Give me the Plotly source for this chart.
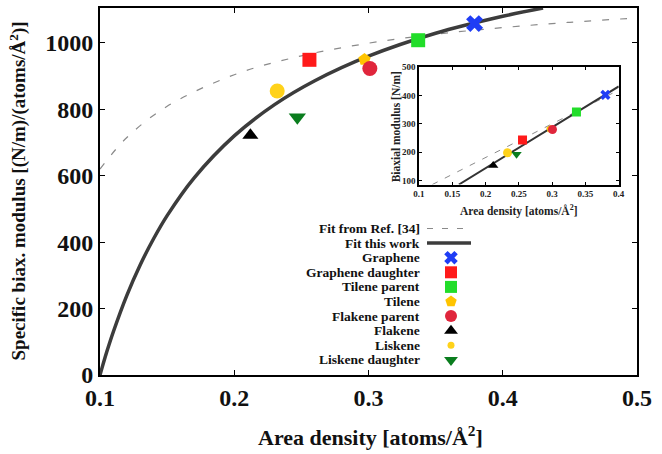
import plotly.graph_objects as go

# ---------------- data ----------------
names = ["Graphene", "Graphene daughter", "Tilene parent", "Tilene",
         "Flakene parent", "Flakene", "Liskene", "Liskene daughter"]
area = [0.379, 0.256, 0.337, 0.297, 0.301, 0.212, 0.232, 0.247]
spec_mod = [1058, 949, 1008, 950, 923, 722, 855, 776]

inset_area = [0.380, 0.2555, 0.3365, 0.297, 0.3005, 0.2115, 0.233, 0.2465]
biax_mod = [402, 243, 342, 282, 280, 153, 198, 193]

fit_this_x = [0.100, 0.105, 0.110, 0.120, 0.130, 0.140, 0.150, 0.170, 0.200,
              0.230, 0.260, 0.300, 0.350, 0.400, 0.430]
fit_this_y = [0, 69, 131, 240, 332, 411, 480, 593, 720, 814, 886, 960, 1029, 1080, 1105]
fit_ref_x = [0.10, 0.12, 0.15, 0.20, 0.25, 0.30, 0.35, 0.40, 0.45, 0.50]
fit_ref_y = [620, 715, 809, 904, 961, 999, 1026, 1046, 1062, 1075]

inset_this_x = [0.16, 0.40]
inset_this_y = [86, 432]
inset_ref_x = [0.12, 0.40]
inset_ref_y = [86, 419]

x_ticks = [0.1, 0.2, 0.3, 0.4, 0.5]
y_ticks = [0, 200, 400, 600, 800, 1000]
ix_ticks = [0.1, 0.15, 0.2, 0.25, 0.3, 0.35, 0.4]
ix_labels = ["0.1", "0.15", "0.2", "0.25", "0.3", "0.35", "0.4"]
iy_ticks = [100, 200, 300, 400, 500]

# ---------------- styles ----------------
symbols = ["x", "square", "square", "pentagon", "circle", "triangle-up", "circle", "triangle-down"]
colors = ["#1f3df5", "#ff1a1a", "#22dd2a", "#ffc400", "#e0263c", "#000000", "#ffd21a", "#0a7d1e"]
main_sizes = [15, 14, 14, 13, 15, 14, 15, 15]
inset_sizes = [9, 9, 9, 8, 9, 9, 9, 9]
leg_sizes = [12, 12, 12, 12, 12, 12, 7, 12]

FONT = "Liberation Serif"

fig = go.Figure()

# main fits
fig.add_trace(go.Scatter(x=fit_ref_x, y=fit_ref_y, mode="lines", line_shape="spline",
                         line=dict(color="#8a8a8a", width=1.2, dash="7px,11px"),
                         showlegend=False, hoverinfo="skip"))
fig.add_trace(go.Scatter(x=fit_this_x, y=fit_this_y, mode="lines", line_shape="spline",
                         line=dict(color="#3c3c3c", width=3.5),
                         showlegend=False, hoverinfo="skip"))
# main points
for i, n in enumerate(names):
    fig.add_trace(go.Scatter(x=[area[i]], y=[spec_mod[i]], mode="markers", name=n,
                             marker=dict(symbol=symbols[i], color=colors[i], size=main_sizes[i],
                                         line=dict(width=0)),
                             showlegend=False))

# inset fits
fig.add_trace(go.Scatter(x=inset_ref_x, y=inset_ref_y, xaxis="x2", yaxis="y2", mode="lines",
                         line=dict(color="#8a8a8a", width=1, dash="6px,8px"),
                         showlegend=False, hoverinfo="skip"))
fig.add_trace(go.Scatter(x=inset_this_x, y=inset_this_y, xaxis="x2", yaxis="y2", mode="lines",
                         line=dict(color="#333333", width=2),
                         showlegend=False, hoverinfo="skip"))
for i, n in enumerate(names):
    fig.add_trace(go.Scatter(x=[inset_area[i]], y=[biax_mod[i]], xaxis="x2", yaxis="y2",
                             mode="markers", name=n,
                             marker=dict(symbol=symbols[i], color=colors[i], size=inset_sizes[i],
                                         line=dict(width=0)),
                             showlegend=False))

# ---------------- manual legend (text left, sample right) ----------------
legend_labels = ["Fit from Ref. [34]", "Fit this work"] + names
row0_px, step_px = 226.5, 14.8
plot_top_px, plot_bot_px, plot_left_px, plot_w_px = 3.0, 375.0, 100.0, 537.0
plot_h_px = plot_bot_px - plot_top_px


def py(ypx):
    return (plot_bot_px - ypx) / plot_h_px


def px(xpx):
    return (xpx - plot_left_px) / plot_w_px


annotations = []
shapes = []
for k, lab in enumerate(legend_labels):
    yy = py(row0_px + step_px * k)
    annotations.append(dict(x=px(421), y=yy, xref="paper", yref="paper", text="<b>%s</b>" % lab,
                            showarrow=False, xanchor="right", yanchor="middle", borderpad=0,
                            font=dict(family=FONT, size=13.5, color="#111")))
shapes.append(dict(type="line", xref="paper", yref="paper", x0=px(427), x1=px(471),
                   y0=py(row0_px), y1=py(row0_px), line=dict(color="#8a8a8a", width=1.2, dash="6px,9px")))
shapes.append(dict(type="line", xref="paper", yref="paper", x0=px(427), x1=px(471),
                   y0=py(row0_px + step_px), y1=py(row0_px + step_px), line=dict(color="#3c3c3c", width=3.5)))
for i, n in enumerate(names):
    yy = py(row0_px + step_px * (i + 2))
    fig.add_trace(go.Scatter(x=[px(451)], y=[yy], xaxis="x3", yaxis="y3", mode="markers",
                             marker=dict(symbol=symbols[i], color=colors[i], size=leg_sizes[i],
                                         line=dict(width=0)),
                             showlegend=False, hoverinfo="skip"))

# axis titles
annotations.append(dict(x=px(18), y=py(189), xref="paper", yref="paper", textangle=-90,
                        text="<b>Specific biax. modulus [(N/m)/(atoms/Å<sup>2</sup>)]</b>",
                        showarrow=False, xanchor="center", yanchor="middle",
                        font=dict(family=FONT, size=19, color="#111")))
annotations.append(dict(x=px(370), y=py(437), xref="paper", yref="paper",
                        text="<b>Area density [atoms/Å<sup>2</sup>]</b>",
                        showarrow=False, xanchor="center", yanchor="middle",
                        font=dict(family=FONT, size=22, color="#111")))
annotations.append(dict(x=px(396), y=py(124), xref="paper", yref="paper", textangle=-90,
                        text="<b>Biaxial modulus [N/m]</b>",
                        showarrow=False, xanchor="center", yanchor="middle",
                        font=dict(family=FONT, size=11.5, color="#222")))
annotations.append(dict(x=px(519), y=py(208), xref="paper", yref="paper",
                        text="<b>Area density [atoms/Å<sup>2</sup>]</b>",
                        showarrow=False, xanchor="center", yanchor="middle",
                        font=dict(family=FONT, size=11.5, color="#222")))

main_ax = dict(showline=True, linecolor="black", linewidth=2, mirror="ticks", ticks="inside",
               ticklen=5, tickwidth=1, tickcolor="black", showgrid=False, zeroline=False,
               tickfont=dict(family=FONT, size=24, color="#111", weight="bold"))
inset_ax = dict(showline=True, linecolor="black", linewidth=1.5, mirror="ticks", ticks="inside",
                ticklen=3, tickwidth=1, tickcolor="black", showgrid=False, zeroline=False,
                tickfont=dict(family=FONT, size=9, color="#222", weight="bold"))

fig.update_layout(
    width=662, height=454, autosize=False,
    margin=dict(l=100, r=25, t=3, b=79),
    paper_bgcolor="white", plot_bgcolor="white",
    font=dict(family=FONT),
    showlegend=False,
    xaxis=dict(domain=[0, 1], range=[0.1, 0.5], tickvals=x_ticks, tickformat=".1f", anchor="y", **main_ax),
    yaxis=dict(domain=[0, 1], range=[0, 1105], tickvals=y_ticks, anchor="x", **main_ax),
    xaxis2=dict(domain=[0.594, 0.966], range=[0.1, 0.4], tickvals=ix_ticks, ticktext=ix_labels,
                anchor="y2", **inset_ax),
    yaxis2=dict(domain=[0.519, 0.839], range=[86, 500], tickvals=iy_ticks, anchor="x2", **inset_ax),
    xaxis3=dict(overlaying="x", range=[0, 1], visible=False, anchor="y3"),
    yaxis3=dict(overlaying="y", range=[0, 1], visible=False, anchor="x3"),
    annotations=annotations,
    shapes=shapes,
)

fig.write_html("out.html")
